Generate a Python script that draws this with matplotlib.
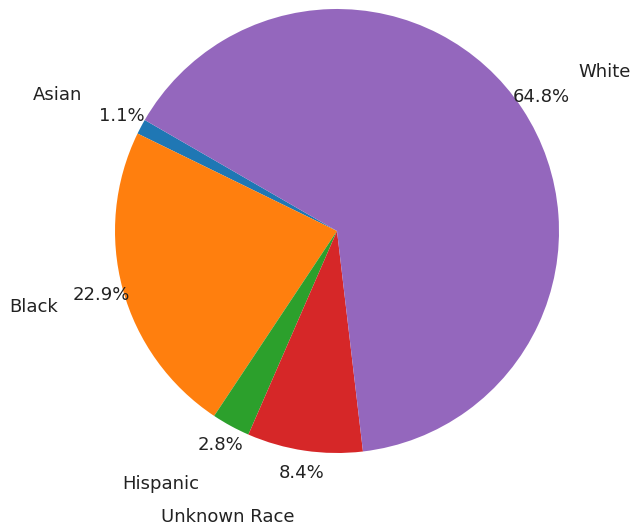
import matplotlib
matplotlib.use("Agg")
import matplotlib.pyplot as plt

categories = ["Asian", "Black", "Hispanic", "Unknown Race", "White"]
values = [1.1, 22.9, 2.8, 8.4, 64.8]
colors = ["#1f77b4", "#ff7f0e", "#2ca02c", "#d62728", "#9467bd"]

W, H = 634, 529
fig = plt.figure(figsize=(W / 100, H / 100), dpi=100)
cx, cy, r = 337, 231, 222
ax = fig.add_axes([(cx - r) / W, (H - cy - r) / H, 2 * r / W, 2 * r / H])

wedges, texts, autotexts = ax.pie(
    values, labels=categories, colors=colors, startangle=150,
    autopct="%1.1f%%", pctdistance=1.1, labeldistance=1.3,
    textprops={"fontsize": 13, "color": "#222222"},
)
ax.set_xlim(-1, 1)
ax.set_ylim(-1, 1)
ax.set_aspect("equal")
ax.axis("off")

fig.savefig("out.png", dpi=100)
